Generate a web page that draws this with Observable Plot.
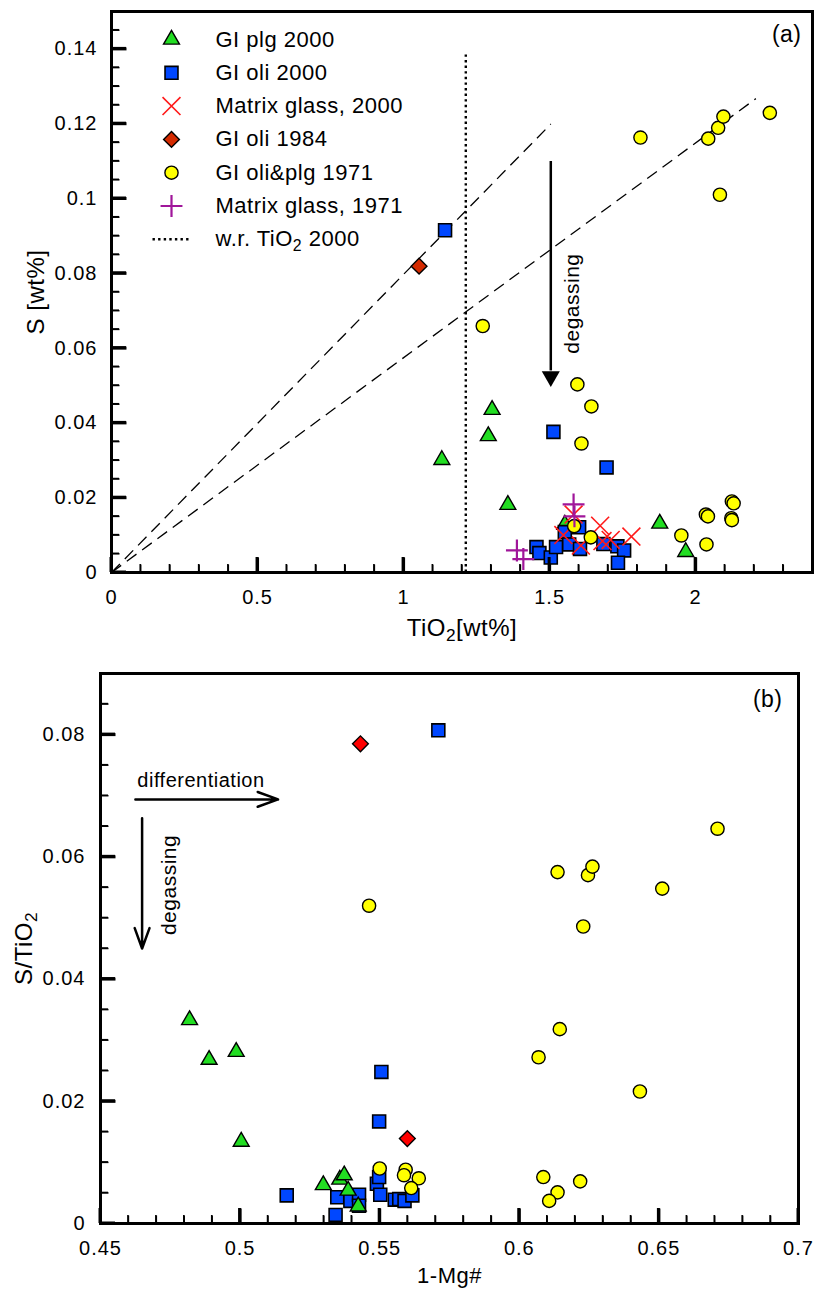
<!DOCTYPE html>
<html><head><meta charset="utf-8">
<script src="https://cdn.jsdelivr.net/npm/d3@7"></script>
<script src="https://cdn.jsdelivr.net/npm/@observablehq/plot@0.6"></script>
<style>
body{margin:0;background:#fff;}
#wrap{width:815px;position:relative;}
#wrap svg{display:block;font-family:'Liberation Sans', Arial, sans-serif !important;letter-spacing:0.5px;}
</style></head><body><div id="wrap"></div>
<script>
// ---------- Panel (a) data: S vs TiO2 ----------
const plgA_x = [1.131, 1.290, 1.303, 1.357, 1.552, 1.877, 1.966];
const plgA_y = [0.0301, 0.0365, 0.0435, 0.0181, 0.0128, 0.0131, 0.0055];
const oliA_x = [1.142, 1.513, 1.695, 1.455, 1.465, 1.504, 1.522, 1.552, 1.567, 1.601, 1.604, 1.684, 1.732, 1.755, 1.734];
const oliA_y = [0.0915, 0.0376, 0.0281, 0.0068, 0.0052, 0.0040, 0.0068, 0.0108, 0.0075, 0.0121, 0.0063, 0.0076, 0.0070, 0.0059, 0.0026];
const mg2000A_x = [1.547, 1.582, 1.607, 1.673, 1.681, 1.709, 1.780];
const mg2000A_y = [0.0100, 0.0155, 0.0072, 0.0125, 0.0084, 0.0087, 0.0096];
const oli1984A_x = [1.053];
const oli1984A_y = [0.0819];
const y1971A_x = [1.271, 1.595, 1.643, 1.609, 1.811, 2.043, 2.077, 2.095, 2.254, 2.083, 1.584, 1.641, 1.951, 2.037, 2.035, 2.042, 2.124, 2.130, 2.122, 2.124];
const y1971A_y = [0.0659, 0.0503, 0.0444, 0.0345, 0.1163, 0.1160, 0.1189, 0.1219, 0.1229, 0.1010, 0.0124, 0.0094, 0.0099, 0.0075, 0.0155, 0.0150, 0.0190, 0.0185, 0.0145, 0.0140];
const mg1971A_x = [1.582, 1.585, 1.388, 1.410];
const mg1971A_y = [0.0182, 0.0150, 0.0059, 0.0036];
const refLineEndX = [1.504, 2.206];
const refLineEndY = [0.1199, 0.1267];
const wrTiO2_x = [1.213];
const wrTiO2_top = [0.139];
const degasA = {x: 1.504, yTop: 0.1099, yBase: 0.0539, yHead: 0.0524, textX: 1.576, textY: 0.0719};

// ---------- Panel (b) data: S/TiO2 vs 1-Mg# ----------
const oliB_x = [0.5710, 0.5506, 0.5498, 0.5167, 0.5348, 0.5342, 0.5395, 0.5426, 0.5426, 0.5490, 0.5498, 0.5502, 0.5554, 0.5570, 0.5589, 0.5617];
const oliB_y = [0.0807, 0.0248, 0.0167, 0.0046, 0.0043, 0.0014, 0.0037, 0.0047, 0.0029, 0.0065, 0.0076, 0.0047, 0.0039, 0.0040, 0.0037, 0.0046];
const plgB_x = [0.4819, 0.4889, 0.4986, 0.5004, 0.5298, 0.5357, 0.5373, 0.5387, 0.5423];
const plgB_y = [0.0333, 0.0268, 0.0281, 0.0134, 0.0063, 0.0072, 0.0079, 0.0054, 0.0028];
const y1971B_x = [0.5462, 0.6137, 0.6246, 0.6262, 0.6512, 0.6229, 0.6145, 0.6069, 0.6432, 0.6086, 0.6218, 0.6137, 0.6107, 0.6710, 0.5500, 0.5593, 0.5587, 0.5640, 0.5613];
const y1971B_y = [0.0520, 0.0575, 0.0570, 0.0584, 0.0548, 0.0486, 0.0318, 0.0272, 0.0216, 0.0076, 0.0069, 0.0051, 0.0037, 0.0646, 0.0090, 0.0088, 0.0079, 0.0074, 0.0058];
const oli1984B_x = [0.5431, 0.5599];
const oli1984B_y = [0.0785, 0.0139];
const diffArrowB = {x1: 0.4625, x2: 0.5136, y: 0.0694, textX: 0.4632, textY: 0.0725};
const degasArrowB = {x: 0.4649, y1: 0.0663, y2: 0.0450, textX: 0.4745, textY: 0.0554};

// ---------- ticks ----------
const xTicksA = [0, 0.5, 1, 1.5, 2];
const xTickLabelsA = ["0", "0.5", "1", "1.5", "2"];
const yTicksA = [0, 0.02, 0.04, 0.06, 0.08, 0.1, 0.12, 0.14];
const yTickLabelsA = ["0", "0.02", "0.04", "0.06", "0.08", "0.1", "0.12", "0.14"];
const xTicksB = [0.45, 0.5, 0.55, 0.6, 0.65, 0.7];
const xTickLabelsB = ["0.45", "0.5", "0.55", "0.6", "0.65", "0.7"];
const yTicksB = [0, 0.02, 0.04, 0.06, 0.08];
const yTickLabelsB = ["0", "0.02", "0.04", "0.06", "0.08"];

const legendNames = ["GI plg 2000", "GI oli 2000", "Matrix glass, 2000", "GI oli 1984", "GI oli&plg 1971", "Matrix glass, 1971", "w.r. TiO2 2000"];

// ---------- styles ----------
const S = {
  plg:  {symbol: "triangle", r: 5.9, fill: "#22dd22", stroke: "black", strokeWidth: 1.4},
  oli:  {symbol: "square", r: 7.3, fill: "#0047ff", stroke: "black", strokeWidth: 1.6},
  mg2:  {symbol: "times", r: 8.2, fill: "none", stroke: "#ff1a1a", strokeWidth: 1.6},
  d84a: {symbol: "square", r: 6.3, rotate: 45, fill: "#d42a00", stroke: "black", strokeWidth: 1.4},
  d84b: {symbol: "square", r: 6.3, rotate: 45, fill: "#ff0000", stroke: "black", strokeWidth: 1.4},
  y71:  {symbol: "circle", r: 6.6, fill: "#ffff00", stroke: "black", strokeWidth: 1.4},
  mg71: {symbol: "plus", r: 7.1, fill: "none", stroke: "#a0169a", strokeWidth: 2.2},
  wr:   {symbol: {draw(ctx) { ctx.moveTo(-19, 0); ctx.lineTo(19, 0); }}, fill: "none", stroke: "black", strokeWidth: 2.4, strokeDasharray: "2.4,3.2"}
};
const legendStyles = [S.plg, S.oli, S.mg2, S.d84a, S.y71, S.mg71, S.wr];

const pts = (xs, ys) => xs.map((x, i) => ({x, y: ys[i]}));
const near = (arr, d) => arr.findIndex(v => Math.abs(v - d) < 1e-9);
const minors = (lo, hi, step, majors) =>
  d3.range(Math.round((hi - lo) / step) + 1).map(i => +(lo + i * step).toFixed(6))
    .filter(v => v > lo + 1e-9 && v < hi - 1e-9 && majors.every(m => Math.abs(m - v) > 1e-9));

const TICK_FONT = 20, TITLE_FONT = 24, NOTE_FONT = 21;

function axes(cfg) {
  const {xMaj, xLab, xStep, xDom, yMaj, yLab, yStep, yDom, xPad, yPad, plotW, plotH} = cfg;
  const xMin = minors(xDom[0], xDom[1], xStep, xMaj);
  const yMin = minors(yDom[0], yDom[1], yStep, yMaj);
  const dY = p => p * (yDom[1] - yDom[0]) / plotH;
  const dX = p => p * (xDom[1] - xDom[0]) / plotW;
  const xTickMarks = (ticks, len, sw) => Plot.link(ticks, {x1: d => d, x2: d => d, y1: () => yDom[0], y2: () => yDom[0] + dY(len), stroke: "black", strokeWidth: sw});
  const yTickMarks = (ticks, len, sw) => Plot.link(ticks, {y1: d => d, y2: d => d, x1: () => xDom[0], x2: () => xDom[0] + dX(len), stroke: "black", strokeWidth: sw});
  return [
    xTickMarks(xMin, 8, 1.5),
    xTickMarks(xMaj, 15, 3),
    yTickMarks(yMin, 8, 1.5),
    yTickMarks(yMaj, 15, 3),
    Plot.axisX(xMaj, {anchor: "bottom", tickSize: 0, tickPadding: xPad, fontSize: TICK_FONT, tickFormat: d => xLab[near(xMaj, d)], label: null}),
    Plot.axisY(yMaj, {anchor: "left", tickSize: 0, tickPadding: yPad, fontSize: TICK_FONT, tickFormat: d => yLab[near(yMaj, d)], label: null})
  ];
}

// extra pass: inward ticks placed with the plot's own scales, appended on top
function overlayTicks(svg, cfg) {
  const sx = svg.scale("x"), sy = svg.scale("y");
  const {xMaj, xStep, xDom, yMaj, yStep, yDom} = cfg;
  const g = d3.select(svg).append("g").attr("aria-label", "inward ticks").attr("stroke", "#000").attr("fill", "none");
  const x0 = sx.apply(xDom[0]), y0 = sy.apply(yDom[0]);
  const addX = (ticks, len, sw) => ticks.forEach(v => {
    const px = sx.apply(v);
    g.append("line").attr("x1", px).attr("x2", px).attr("y1", y0).attr("y2", y0 - len).attr("stroke-width", sw);
  });
  const addY = (ticks, len, sw) => ticks.forEach(v => {
    const py = sy.apply(v);
    g.append("line").attr("y1", py).attr("y2", py).attr("x1", x0).attr("x2", x0 + len).attr("stroke-width", sw);
  });
  addX(minors(xDom[0], xDom[1], xStep, xMaj), 8, 1.5);
  addX(xMaj, 15, 3);
  addY(minors(yDom[0], yDom[1], yStep, yMaj), 8, 1.5);
  addY(yMaj, 15, 3);
}

function finish(svg) {
  d3.select(svg).selectAll('g[aria-label$="tick label"]').attr("letter-spacing", "1px");
  d3.select(svg).selectAll("text").each(function() {
    if (this.querySelector("tspan")) return;
    const t = this.textContent;
    const k = t.indexOf("TiO2");
    if (k < 0) return;
    const sel = d3.select(this);
    sel.text(null);
    sel.append("tspan").text(t.slice(0, k + 3));
    sel.append("tspan").attr("dy", 5).attr("font-size", "0.72em").text("2");
    const rest = t.slice(k + 4);
    if (rest) sel.append("tspan").attr("dy", -5).text(rest);
  });
}

const legendMarks = legendNames.flatMap((name, i) => {
  const st = legendStyles[i];
  const dy = 28 + i * 33.3;
  return [
    Plot.dot([name], {frameAnchor: "top-left", dx: 60, dy, ...st}),
    Plot.text([name], {frameAnchor: "top-left", dx: 104, dy, text: d => d, textAnchor: "start", lineAnchor: "middle", fontSize: 22})
  ];
});

const baseStyle = {background: "white", color: "black", overflow: "visible"};

const A = {width: 815, height: 650, left: 111, right: 3, top: 11, bottom: 78};
const xDomA = [0, 2.4], yDomA = [0, 0.15];
const cfgA = {xMaj: xTicksA, xLab: xTickLabelsA, xStep: 0.1, xDom: xDomA, yMaj: yTicksA, yLab: yTickLabelsA, yStep: 0.005, yDom: yDomA,
              xPad: 17, yPad: 14, plotW: A.width - A.left - A.right, plotH: A.height - A.top - A.bottom};
const plotA = Plot.plot({
  width: A.width, height: A.height,
  marginLeft: A.left, marginRight: A.right, marginTop: A.top, marginBottom: A.bottom,
  x: {domain: xDomA}, y: {domain: yDomA},
  style: baseStyle,
  marks: [
    ...axes(cfgA),
    Plot.frame({stroke: "black", strokeWidth: 3}),
    Plot.link(refLineEndX, {x1: () => 0, y1: () => 0, x2: (d, i) => refLineEndX[i], y2: (d, i) => refLineEndY[i], stroke: "black", strokeWidth: 1.3, strokeDasharray: "12,7"}),
    Plot.ruleX(wrTiO2_x, {x: d => d, y1: () => 0, y2: (d, i) => wrTiO2_top[i], stroke: "black", strokeWidth: 2.4, strokeDasharray: "2.4,3.2"}),
    Plot.ruleX([degasA], {x: "x", y1: "yTop", y2: "yBase", stroke: "black", strokeWidth: 2.5}),
    Plot.dot([degasA], {x: "x", y: "yHead", symbol: "triangle", r: 6.7, rotate: 180, fill: "black", stroke: "none"}),
    Plot.text([degasA], {x: "textX", y: "textY", text: () => "degassing", rotate: -90, textAnchor: "middle", lineAnchor: "middle", fontSize: NOTE_FONT}),
    Plot.dot(pts(plgA_x, plgA_y), {x: "x", y: "y", ...S.plg}),
    Plot.dot(pts(oliA_x, oliA_y), {x: "x", y: "y", ...S.oli}),
    Plot.dot(pts(oli1984A_x, oli1984A_y), {x: "x", y: "y", ...S.d84a}),
    Plot.dot(pts(mg2000A_x, mg2000A_y), {x: "x", y: "y", ...S.mg2}),
    Plot.dot(pts(y1971A_x, y1971A_y), {x: "x", y: "y", ...S.y71}),
    Plot.dot(pts(mg1971A_x, mg1971A_y), {x: "x", y: "y", ...S.mg71}),
    ...legendMarks,
    Plot.text(["(a)"], {frameAnchor: "top-right", dx: -11, dy: 14, text: d => d, textAnchor: "end", lineAnchor: "top", fontSize: 23}),
    Plot.text(["TiO2[wt%]"], {frameAnchor: "bottom", dy: 46, text: d => d, textAnchor: "middle", lineAnchor: "top", fontSize: TITLE_FONT}),
    Plot.text(["S [wt%]"], {frameAnchor: "left", dx: -75, text: d => d, rotate: -90, textAnchor: "middle", lineAnchor: "middle", fontSize: TITLE_FONT})
  ]
});

const B = {width: 815, height: 642, left: 100, right: 17, top: 23, bottom: 69};
const xDomB = [0.45, 0.7], yDomB = [0, 0.09];
const cfgB = {xMaj: xTicksB, xLab: xTickLabelsB, xStep: 0.01, xDom: xDomB, yMaj: yTicksB, yLab: yTickLabelsB, yStep: 0.005, yDom: yDomB,
              xPad: 17, yPad: 15, plotW: B.width - B.left - B.right, plotH: B.height - B.top - B.bottom};
const plotB = Plot.plot({
  width: B.width, height: B.height,
  marginLeft: B.left, marginRight: B.right, marginTop: B.top, marginBottom: B.bottom,
  x: {domain: xDomB}, y: {domain: yDomB},
  style: baseStyle,
  marks: [
    ...axes(cfgB),
    Plot.frame({stroke: "black", strokeWidth: 3}),
    Plot.arrow([diffArrowB], {x1: "x1", x2: "x2", y1: "y", y2: "y", stroke: "black", strokeWidth: 2.5, headLength: 13, headAngle: 40}),
    Plot.arrow([degasArrowB], {x1: "x", x2: "x", y1: "y1", y2: "y2", stroke: "black", strokeWidth: 2.5, headLength: 13, headAngle: 40}),
    Plot.text([diffArrowB], {x: "textX", y: "textY", text: () => "differentiation", textAnchor: "start", lineAnchor: "middle", fontSize: 20}),
    Plot.text([degasArrowB], {x: "textX", y: "textY", text: () => "degassing", rotate: -90, textAnchor: "middle", lineAnchor: "middle", fontSize: NOTE_FONT}),
    Plot.dot(pts(oliB_x, oliB_y), {x: "x", y: "y", ...S.oli}),
    Plot.dot(pts(plgB_x, plgB_y), {x: "x", y: "y", ...S.plg}),
    Plot.dot(pts(y1971B_x, y1971B_y), {x: "x", y: "y", ...S.y71}),
    Plot.dot(pts(oli1984B_x, oli1984B_y), {x: "x", y: "y", ...S.d84b}),
    Plot.text(["(b)"], {frameAnchor: "top-right", dx: -16, dy: 17, text: d => d, textAnchor: "end", lineAnchor: "top", fontSize: 23}),
    Plot.text(["1-Mg#"], {frameAnchor: "bottom", dy: 44, text: d => d, textAnchor: "middle", lineAnchor: "top", fontSize: 22}),
    Plot.text(["S/TiO2"], {frameAnchor: "left", dx: -76, text: d => d, rotate: -90, textAnchor: "middle", lineAnchor: "middle", fontSize: TITLE_FONT})
  ]
});

const wrap = document.getElementById("wrap");
wrap.appendChild(plotA);
wrap.appendChild(plotB);
finish(plotA);
finish(plotB);
try { overlayTicks(plotA, cfgA); overlayTicks(plotB, cfgB); } catch (e) { /* ticks already drawn by Plot marks */ }
</script>
</body></html>
